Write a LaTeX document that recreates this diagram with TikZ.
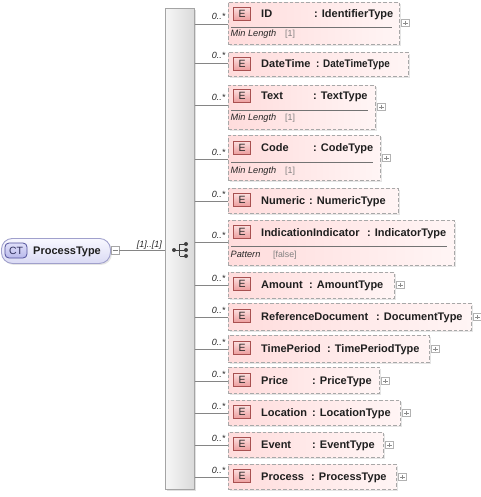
\documentclass[tikz,border=0pt]{standalone}
\usepackage{fontspec}
\setmainfont{Liberation Sans}
\usetikzlibrary{shadows}
\definecolor{elbd}{HTML}{A8A8A8}
\definecolor{elL}{HTML}{FFDCDC}
\definecolor{elR}{HTML}{FFF5F5}
\definecolor{ebT}{HTML}{FCDCDC}
\definecolor{ebB}{HTML}{EC9E9E}
\definecolor{ebD}{HTML}{A85050}
\definecolor{ctbd}{HTML}{A0A0CC}
\definecolor{ctT}{HTML}{F8F8FF}
\definecolor{ctB}{HTML}{DADAF4}
\definecolor{ctbT}{HTML}{E0E0FA}
\definecolor{ctbB}{HTML}{B8B8EA}
\definecolor{ctbD}{HTML}{50509A}
\definecolor{barbd}{HTML}{A4A4A4}
\definecolor{barL}{HTML}{F6F6F6}
\definecolor{barR}{HTML}{DADADA}
\definecolor{linec}{HTML}{858585}
\definecolor{facetc}{HTML}{808080}
\newcommand\hdrfont{\fontsize{11}{13}\selectfont\bfseries}
\tikzset{
  x=1pt, y=-1pt,
  elbox/.style={draw=elbd, dash pattern=on 3.5pt off 2pt, line width=0.9pt, left color=elL, right color=elR,
    anchor=north west, inner sep=0pt,
    drop shadow={shadow xshift=1.5pt, shadow yshift=-1.5pt, fill=black, opacity=0.10}},
  ebadge/.style={draw=ebD, line width=0.8pt, top color=ebT, bottom color=ebB, minimum width=17.5pt,
    minimum height=12.5pt, inner sep=0pt, text=black!85, font=\fontsize{10.5}{10}\selectfont},
  hdr/.style={inner sep=0pt, text=black!88, font=\hdrfont},
  card/.style={inner sep=0pt, anchor=base east, text=black!85, font=\fontsize{9}{10}\selectfont\itshape},
  conn/.style={draw=linec, line width=0.8pt},
  sepline/.style={draw=black!55, line width=0.7pt},
  facetl/.style={inner sep=0pt, anchor=base west, text=black!85, font=\fontsize{9.2}{10}\selectfont\itshape},
  facetv/.style={inner sep=0pt, anchor=base west, text=facetc, font=\fontsize{8.8}{10}\selectfont},
  plusbox/.style={draw=black!30, fill=white, line width=0.6pt, minimum size=7.5pt, inner sep=0pt,
    path picture={\draw[black!45, line width=0.6pt] ([xshift=1.5pt]path picture bounding box.west) -- ([xshift=-1.5pt]path picture bounding box.east);
      \draw[black!45, line width=0.6pt] ([yshift=-1.5pt]path picture bounding box.north) -- ([yshift=1.5pt]path picture bounding box.south);}},
  minusbox/.style={draw=black!35, fill=white, line width=0.6pt, minimum size=8pt, inner sep=0pt,
    path picture={\draw[black!50, line width=0.6pt] ([xshift=1.5pt]path picture bounding box.west) -- ([xshift=-1.5pt]path picture bounding box.east);}},
  barbox/.style={draw=barbd, line width=0.8pt, left color=barL, right color=barR, anchor=north west,
    inner sep=0pt, drop shadow={shadow xshift=2pt, shadow yshift=-2pt, fill=black, opacity=0.12}},
  ctnode/.style={draw=ctbd, line width=0.9pt, top color=ctT, bottom color=ctB, rounded corners=11pt,
    anchor=north west, inner sep=0pt, drop shadow={shadow xshift=1.5pt, shadow yshift=-1.5pt, fill=black, opacity=0.10}},
  ctbadge/.style={draw=ctbD, line width=0.8pt, top color=ctbT, bottom color=ctbB, rounded corners=4pt,
    minimum width=22pt, minimum height=15pt, inner sep=0pt, text=ctbD!60!black, font=\fontsize{10.5}{11}\selectfont},
  seqdot/.style={fill=black!75},
}
% #1 id, #2 top, #3 bottom, #4 right, #5 line y, #6 header y, #7 name, #8 type, #9 colon x
\newcommand\El[9]{%
  \node[elbox, minimum width={(#4-228)*1pt}, minimum height={(#3-#2)*1pt}] (#1) at (228,#2) {};
  \node[ebadge] (#1b) at (242,#6) {E};
  \node[hdr, anchor=base west] (#1n) at (261,#6+4) {#7};
  \node[hdr, anchor=base west] (#1t) at (#9,#6+4) {#8};
  \coordinate (#1c) at (228,#5);
  \draw[conn] (bar.east |- #1c) -- (#1c);
  \node[card] (#1m) at (225.5,#5-4) {0..*};
}
% #1 id, #2 right, #3 line y
\newcommand\Pl[3]{\node[plusbox] (#1p) at (#2+6.5,#3) {};}
% #1 id, #2 sep y, #3 right, #4 facet y, #5 label, #6 value x, #7 value
\newcommand\Fc[7]{%
  \draw[sepline] (231,#2) -- (#3-7,#2);
  \node[facetl] (#1fl) at (230.5,#4+3) {#5};
  \node[facetv] (#1fv) at (#6,#4+3) {#7};
}
\begin{document}
\begin{tikzpicture}
\useasboundingbox (0,0) rectangle (480,497);
% sequence bar
\node[barbox, minimum width=29pt, minimum height=481pt] (bar) at (165,8) {};
% complex type
\node[ctnode, minimum width=109pt, minimum height=25pt] (ct) at (1,238) {};
\node[ctbadge] (ctb) at (16,250.5) {CT};
\node[hdr, anchor=base west] (ctn) at (33,254.5) {ProcessType};
\node[minusbox] (ctm) at (115,250.5) {};
\draw[conn] (ctm.east) -- (bar.west |- ctm.east);
\node[card] (ctc) at (162,247) {[1]..[1]};
% sequence compositor symbol
\coordinate (seq) at (179.5,250);
\draw[black!75, line width=0.9pt] ([xshift=-5.5pt]seq) -- (seq);
\draw[black!75, line width=0.9pt] (seq) ++(0,-6) -- ++(0,12);
\draw[black!75, line width=0.9pt] (seq) ++(0,-6) -- ++(6.5,0);
\draw[black!75, line width=0.9pt] (seq) -- ++(6.5,0);
\draw[black!75, line width=0.9pt] (seq) ++(0,6) -- ++(6.5,0);
\fill[seqdot] ([xshift=-5.5pt]seq) circle (2pt);
\fill[seqdot] ([xshift=6.5pt,yshift=6pt]seq) circle (2pt);
\fill[seqdot] ([xshift=6.5pt]seq) circle (2pt);
\fill[seqdot] ([xshift=6.5pt,yshift=-6pt]seq) circle (2pt);
% elements
\El{id}{2}{44}{399}{24}{14}{ID}{: IdentifierType}{314}
\Pl{id}{399}{23}
\Fc{id}{27}{399}{34}{Min Length}{285}{[1]}
\El{dt}{52}{76}{408}{63}{64}{DateTime}{\scalebox{0.9}[1]{: DateTimeType}}{316}
\El{tx}{85}{129}{375}{105}{96}{Text}{: TextType}{313}
\Pl{tx}{375}{107}
\Fc{tx}{110}{375}{118}{Min Length}{285}{[1]}
\El{cd}{135}{180}{380}{159}{148}{Code}{: CodeType}{313}
\Pl{cd}{380}{158}
\Fc{cd}{162}{380}{170}{Min Length}{285}{[1]}
\El{nu}{188}{213}{398}{201}{200}{Numeric}{: NumericType}{309}
\El{ii}{220}{265}{454}{242}{232}{IndicationIndicator}{: IndicatorType}{367}
\Fc{ii}{246}{454}{254}{Pattern}{273}{[false]}
\El{am}{272}{298}{394}{285}{284}{Amount}{: AmountType}{309}
\Pl{am}{394}{285}
\El{rd}{303}{330}{471}{317}{316}{ReferenceDocument}{: DocumentType}{376}
\Pl{rd}{471}{317}
\El{tp}{335}{362}{429}{349}{348}{TimePeriod}{: TimePeriodType}{327}
\Pl{tp}{429}{349}
\El{pr}{367}{393}{379}{381}{380}{Price}{: PriceType}{312}
\Pl{pr}{379}{381}
\El{lo}{400}{425}{400}{413}{412}{Location}{: LocationType}{312}
\Pl{lo}{400}{413}
\El{ev}{432}{457}{383}{445}{444}{Event}{: EventType}{312}
\Pl{ev}{383}{445}
\El{ps}{464}{489}{396}{477}{476}{Process}{: ProcessType}{311}
\Pl{ps}{396}{477}
\end{tikzpicture}
\end{document}
